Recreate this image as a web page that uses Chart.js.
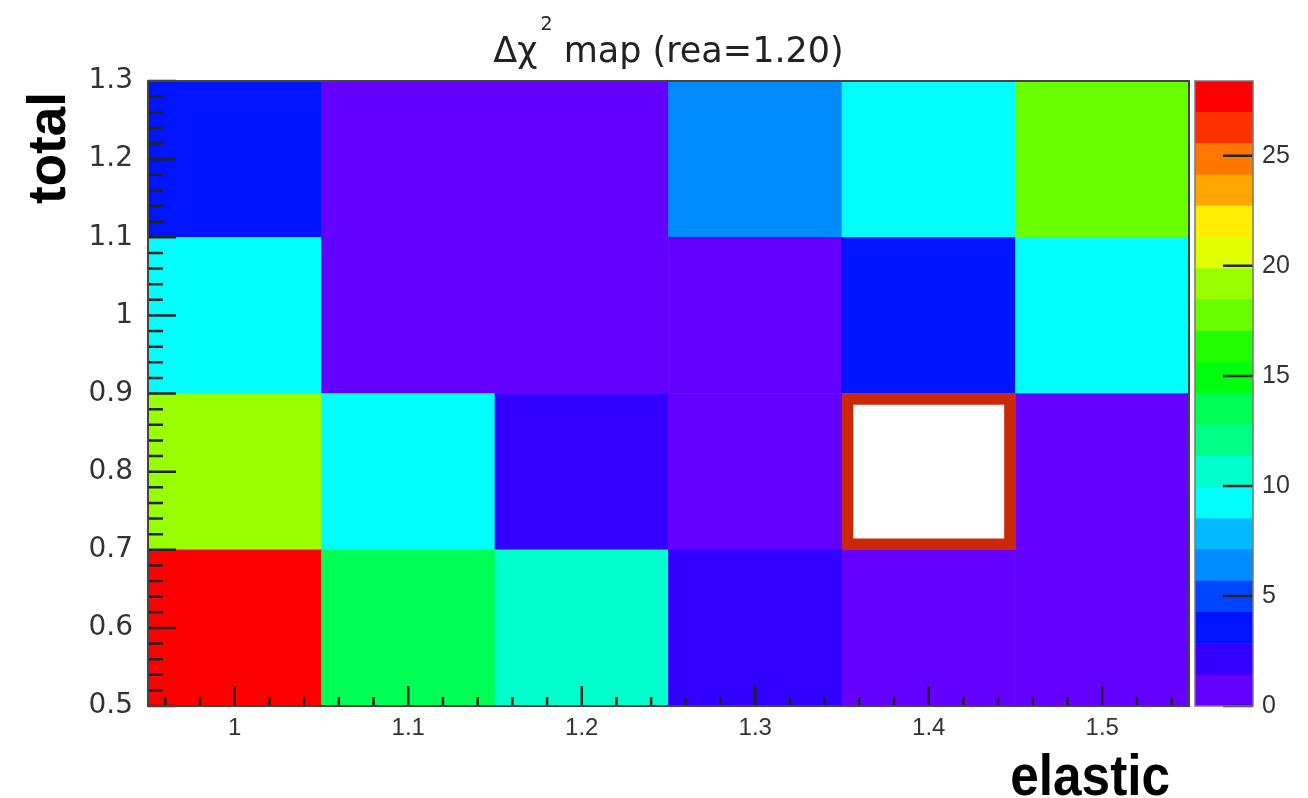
<!DOCTYPE html>
<html>
<head>
<meta charset="utf-8">
<title>mappa delta chi2</title>
<script src="https://cdn.jsdelivr.net/npm/chart.js@4.4.1/dist/chart.umd.min.js"></script>
<style>
  html, body { margin: 0; padding: 0; background: #fff; }
  #wrap { position: relative; width: 1308px; height: 798px; }
  #wrap canvas { position: absolute; left: 0; top: 0; }
</style>
</head>
<body>
<div id="wrap">
  <canvas id="mappa" width="1308" height="798"></canvas>
  <canvas id="palette" width="1308" height="798"></canvas>
</div>
<script>
// bin in elastic (asse x) e total (asse y)
const elasticLabels = ['1', '1.1', '1.2', '1.3', '1.4', '1.5'];
const totalEdges = [0.5, 0.7, 0.9, 1.1, 1.3];
const totalTicks = [0.5, 0.6, 0.7, 0.8, 0.9, 1.0, 1.1, 1.2, 1.3];

// delta chi2 per riga, dalla riga piu' bassa di total verso l'alto
const dchi2_050 = [28.4, 13.6, 10.6, 2.2, 0.7, 0.6];
const dchi2_070 = [19.2, 9.2, 2.0, 0.8, 0.0, 0.6];
const dchi2_090 = [9.3, 0.5, 0.4, 0.9, 3.6, 9.1];
const dchi2_110 = [3.5, 1.0, 0.8, 6.4, 9.4, 17.7];
const righe = [dchi2_050, dchi2_070, dchi2_090, dchi2_110];

// punto di minimo, evidenziato col riquadro
const bestElastic = 4;
const bestRiga = 1;

const zMax = 28.4;
const zTicks = [0, 5, 10, 15, 20, 25];

// palette arcobaleno a 20 livelli, dal viola al rosso
const palette = [
  '#6300ff', '#3300ff', '#0014ff', '#0044ff', '#008bff',
  '#00bbff', '#00fffc', '#00ffcc', '#00ff85', '#00ff55',
  '#00ff0e', '#22ff00', '#69ff00', '#99ff00', '#e0ff00',
  '#ffee00', '#ffa700', '#ff7700', '#ff3000', '#ff0000'
];

function coloreDi(v) {
  if (v <= 0) return 'rgba(0,0,0,0)'; // bin vuoto: non si colora
  const k = Math.min(palette.length - 1, Math.floor(v / zMax * palette.length));
  return palette[k];
}

const fontLabel = '"Liberation Sans", Arial, sans-serif';
const fontDejavu = '"DejaVu Sans", sans-serif';

//GRIGLIA DELLA MAPPA
let datasets = [];
for (let r = 0; r < righe.length; r++) {
  datasets.push({
    data: elasticLabels.map(() => [totalEdges[r], totalEdges[r + 1]]),
    backgroundColor: righe[r].map(coloreDi),
    borderWidth: 0,
    grouped: false,
    barPercentage: 1,
    categoryPercentage: 1
  });
}
// riquadro rosso sul minimo
datasets.push({
  data: elasticLabels.map((l, i) => i === bestElastic ? [totalEdges[bestRiga], totalEdges[bestRiga + 1]] : null),
  backgroundColor: 'rgba(0,0,0,0)',
  borderColor: '#c9290a',
  borderWidth: 11,
  borderSkipped: false,
  grouped: false,
  barPercentage: 1,
  categoryPercentage: 1,
  order: -1
});

// tacche stile ROOT, cornice e titoli
const assiRoot = {
  id: 'assiRoot',
  afterDatasetsDraw(chart) {
    const {ctx, chartArea: a, scales: {x, y}} = chart;
    ctx.save();
    ctx.strokeStyle = '#222';
    ctx.lineWidth = 2.5;
    ctx.beginPath();
    for (let i = 0; i <= 40; i++) {
      const py = y.getPixelForValue(0.5 + i * 0.02);
      const len = i % 5 === 0 ? 28 : 15;
      ctx.moveTo(a.left, py);
      ctx.lineTo(a.left + len, py);
    }
    for (let i = -2; i <= 27; i++) {
      const px = x.getPixelForValue(i * 0.2);
      const len = i % 5 === 0 ? 20 : 9;
      ctx.moveTo(px, a.bottom);
      ctx.lineTo(px, a.bottom - len);
    }
    ctx.stroke();
    ctx.lineWidth = 2;
    ctx.strokeStyle = '#444';
    ctx.strokeRect(a.left, a.top, a.right - a.left, a.bottom - a.top);
    ctx.restore();
  },
  afterDraw(chart) {
    const {ctx, chartArea: a} = chart;
    ctx.save();
    ctx.fillStyle = '#222';
    ctx.textBaseline = 'alphabetic';
    ctx.textAlign = 'left';

    // titolo con l'apice
    const grande = '35px ' + fontDejavu;
    const piccolo = '19px ' + fontDejavu;
    ctx.font = grande;
    const w1 = ctx.measureText('Δχ').width;
    const w3 = ctx.measureText(' map (rea=1.20)').width;
    ctx.font = piccolo;
    const w2 = ctx.measureText('2').width;
    const gap = 3;
    let sx = (a.left + a.right) / 2 - (w1 + gap + w2 + w3) / 2;
    ctx.font = grande;
    ctx.fillText('Δχ', sx, 62);
    ctx.font = piccolo;
    ctx.fillText('2', sx + w1 + gap, 30);
    ctx.font = grande;
    ctx.fillText(' map (rea=1.20)', sx + w1 + gap + w2, 62);

    // titoli degli assi
    ctx.fillStyle = '#000';
    ctx.font = 'bold 53px ' + fontLabel;
    ctx.save();
    ctx.translate(65, 148);
    ctx.rotate(-Math.PI / 2);
    ctx.textAlign = 'center';
    ctx.fillText('total', 0, 0);
    ctx.restore();

    ctx.save();
    ctx.translate(1170, 795);
    ctx.scale(0.9, 1);
    ctx.textAlign = 'right';
    ctx.font = 'bold 57px ' + fontLabel;
    ctx.fillText('elastic', 0, 0);
    ctx.restore();
    ctx.restore();
  }
};

new Chart(document.getElementById('mappa'), {
  type: 'bar',
  data: { labels: elasticLabels, datasets: datasets },
  options: {
    responsive: false,
    animation: false,
    layout: { padding: { left: 0, top: 81, right: 119, bottom: 0 } },
    plugins: { legend: { display: false }, tooltip: { enabled: false } },
    scales: {
      x: {
        offset: true,
        grid: { display: false, drawTicks: false },
        border: { display: false },
        ticks: { padding: 8, color: '#333', font: { family: fontLabel, size: 24 } },
        afterFit: s => { s.height = 92; }
      },
      y: {
        min: 0.5,
        max: 1.3,
        afterBuildTicks: s => { s.ticks = totalTicks.map(v => ({ value: v })); },
        grid: { display: false, drawTicks: false },
        border: { display: false },
        ticks: {
          padding: 15,
          color: '#333',
          font: { family: fontDejavu, size: 28 },
          callback: v => String(+v.toFixed(1))
        },
        afterFit: s => { s.width = 148; }
      }
    }
  },
  plugins: [assiRoot]
});

//SCALA DEI COLORI
const bordoPalette = {
  id: 'bordoPalette',
  afterDatasetsDraw(chart) {
    const {ctx, chartArea: a, scales: {y}} = chart;
    ctx.save();
    ctx.strokeStyle = '#222';
    ctx.lineWidth = 2.5;
    ctx.beginPath();
    for (const v of zTicks) {
      const py = y.getPixelForValue(v);
      ctx.moveTo(a.right, py);
      ctx.lineTo(a.right - 30, py);
    }
    ctx.stroke();
    ctx.lineWidth = 1.5;
    ctx.strokeStyle = '#777';
    ctx.strokeRect(a.left, a.top, a.right - a.left, a.bottom - a.top);
    ctx.restore();
  }
};

new Chart(document.getElementById('palette'), {
  type: 'bar',
  data: {
    labels: ['z'],
    datasets: palette.map((c, k) => ({
      data: [[k * zMax / palette.length, (k + 1) * zMax / palette.length]],
      backgroundColor: c,
      borderWidth: 0,
      grouped: false,
      barPercentage: 1,
      categoryPercentage: 1
    }))
  },
  options: {
    responsive: false,
    animation: false,
    layout: { padding: { left: 1195, top: 81, right: 0, bottom: 92 } },
    plugins: { legend: { display: false }, tooltip: { enabled: false } },
    scales: {
      x: { display: false },
      y: {
        position: 'right',
        min: 0,
        max: zMax,
        afterBuildTicks: s => { s.ticks = zTicks.map(v => ({ value: v })); },
        grid: { display: false, drawTicks: false },
        border: { display: false },
        ticks: { padding: 9, color: '#333', font: { family: fontLabel, size: 25 } },
        afterFit: s => { s.width = 55; }
      }
    }
  },
  plugins: [bordoPalette]
});
</script>
</body>
</html>
